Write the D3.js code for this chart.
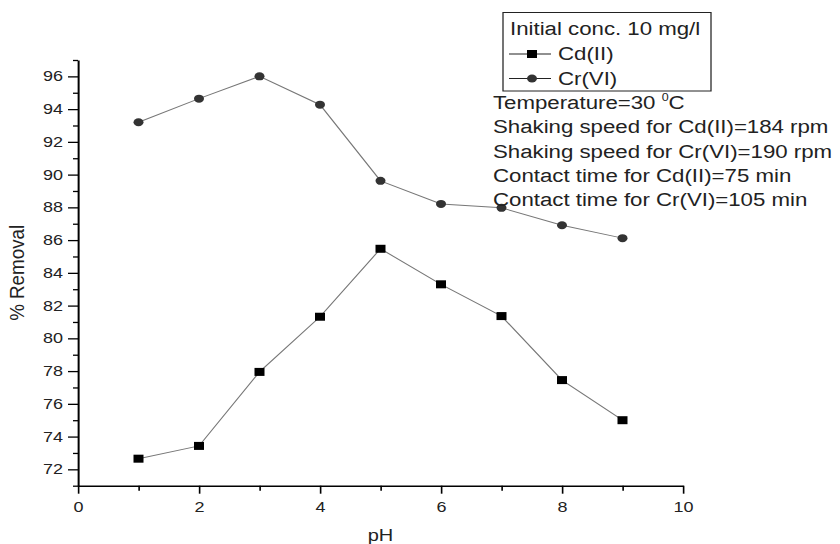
<!DOCTYPE html>
<html>
<head>
<meta charset="utf-8">
<script src="https://cdn.jsdelivr.net/npm/d3@7"></script>
<style>
  html, body { margin: 0; padding: 0; background: #fff; }
  svg { display: block; }
  text { font-family: "Liberation Sans", Arial, sans-serif; fill: #222; }
</style>
</head>
<body>
<div id="chart"></div>
<script>
// data
const pH = [1, 2, 3, 4, 5, 6, 7, 8, 9];
const cdRemoval = [72.65, 73.43, 77.95, 81.32, 85.47, 83.3, 81.36, 77.45, 75.0];
const crRemoval = [93.2, 94.64, 96.0, 94.27, 89.62, 88.21, 87.97, 86.91, 86.12];

const xMajor = [0, 2, 4, 6, 8, 10];
const xMinor = [1, 3, 5, 7, 9];
const yMajor = [72, 74, 76, 78, 80, 82, 84, 86, 88, 90, 92, 94, 96];
const yMinor = [71, 73, 75, 77, 79, 81, 83, 85, 87, 89, 91, 93, 95, 97];

const legendTitle = 'Initial conc. 10 mg/l';
const seriesNames = ['Cd(II)', 'Cr(VI)'];
const notes = [
    'Shaking speed for Cd(II)=184 rpm',
    'Shaking speed for Cr(VI)=190 rpm',
    'Contact time for Cd(II)=75 min',
    'Contact time for Cr(VI)=105 min'
];

// the original picture is stretched sideways, so draw in a narrower box and stretch it
const stretch = 1.25;
const width = 840 / stretch;
const height = 544;
const margin = { top: 60, right: width - 546.4, bottom: 544 - 485.7, left: 62.4 };

const svg = d3.select('#chart')
    .append('svg')
    .attr('width', 840)
    .attr('height', height)
    .attr('viewBox', `0 0 ${width} ${height}`)
    .attr('preserveAspectRatio', 'none');

const x = d3.scaleLinear()
    .domain([0, 10])
    .range([margin.left, width - margin.right]);

const y = d3.scaleLinear()
    .domain([71, 97])
    .range([height - margin.bottom, margin.top]);

// axes
svg.append('g')
    .attr('transform', `translate(0, ${y(71)})`)
    .call(d3.axisBottom(x).tickValues(xMajor).tickSize(8).tickSizeOuter(0).tickPadding(8));

svg.append('g')
    .attr('transform', `translate(0, ${y(71)})`)
    .call(d3.axisBottom(x).tickValues(xMinor).tickSize(5).tickSizeOuter(0).tickFormat(''))
    .select('.domain').remove();

svg.append('g')
    .attr('transform', `translate(${x(0)}, 0)`)
    .call(d3.axisLeft(y).tickValues(yMajor).tickSize(8).tickSizeOuter(0).tickPadding(4));

svg.append('g')
    .attr('transform', `translate(${x(0)}, 0)`)
    .call(d3.axisLeft(y).tickValues(yMinor).tickSize(4).tickSizeOuter(0).tickFormat(''))
    .select('.domain').remove();

svg.selectAll('.domain').attr('stroke', '#000').attr('stroke-width', 1.6);
svg.selectAll('.tick line').attr('stroke', '#000').attr('stroke-width', 1.3);
svg.selectAll('.tick text')
    .attr('font-size', 14.4)
    .attr('fill', '#222')
    .attr('font-family', '"Liberation Sans", Arial, sans-serif');

// axis titles
svg.append('text')
    .attr('x', x(5))
    .attr('y', 541)
    .attr('text-anchor', 'middle')
    .attr('font-size', 16)
    .text('pH');

svg.append('text')
    .attr('transform', `translate(${24 / stretch}, ${y(84)}) rotate(-90)`)
    .attr('text-anchor', 'middle')
    .attr('font-size', 16)
    .attr('textLength', 96)
    .attr('lengthAdjust', 'spacingAndGlyphs')
    .text('% Removal');

// series
const line = d3.line()
    .x(d => x(d[0]))
    .y(d => y(d[1]));

const cdData = d3.zip(pH, cdRemoval);
const crData = d3.zip(pH, crRemoval);

svg.append('path')
    .datum(crData)
    .attr('fill', 'none')
    .attr('stroke', '#777')
    .attr('stroke-width', 1)
    .attr('d', line);

svg.append('path')
    .datum(cdData)
    .attr('fill', 'none')
    .attr('stroke', '#777')
    .attr('stroke-width', 1)
    .attr('d', line);

svg.append('g')
    .selectAll('circle')
    .data(crData)
    .join('circle')
        .attr('cx', d => x(d[0]))
        .attr('cy', d => y(d[1]))
        .attr('r', 4)
        .attr('fill', '#333');

svg.append('g')
    .selectAll('rect')
    .data(cdData)
    .join('rect')
        .attr('x', d => x(d[0]) - 4)
        .attr('y', d => y(d[1]) - 4)
        .attr('width', 8)
        .attr('height', 8)
        .attr('fill', '#000');

// legend
const legend = svg.append('g');

legend.append('rect')
    .attr('x', 503 / stretch)
    .attr('y', 12.5)
    .attr('width', (711 - 503) / stretch)
    .attr('height', 78.5)
    .attr('fill', '#fff')
    .attr('stroke', '#222')
    .attr('stroke-width', 1);

legend.append('text')
    .attr('x', 510 / stretch)
    .attr('y', 35.5)
    .attr('font-size', 17.8)
    .text(legendTitle);

seriesNames.forEach((name, i) => {
    const ly = 54 + i * 24.5;
    const g = legend.append('g');
    g.append('line')
        .attr('x1', 509 / stretch)
        .attr('x2', 551 / stretch)
        .attr('y1', ly)
        .attr('y2', ly)
        .attr('stroke', '#222')
        .attr('stroke-width', 1);
    if (i === 0) {
        g.append('rect')
            .attr('x', 532 / stretch - 4)
            .attr('y', ly - 4)
            .attr('width', 8)
            .attr('height', 8)
            .attr('fill', '#000');
    } else {
        g.append('circle')
            .attr('cx', 532 / stretch)
            .attr('cy', ly)
            .attr('r', 4)
            .attr('fill', '#333');
    }
    g.append('text')
        .attr('x', 558 / stretch)
        .attr('y', ly + 6.5)
        .attr('font-size', 17.8)
        .text(name);
});

// conditions text
const temp = svg.append('text')
    .attr('x', 493 / stretch)
    .attr('y', 109)
    .attr('font-size', 17.8);
temp.append('tspan').text('Temperature=30 ');
temp.append('tspan').attr('dy', -8).attr('font-size', 10).text('0');
temp.append('tspan').attr('dy', 8).text('C');

svg.append('g')
    .selectAll('text')
    .data(notes)
    .join('text')
        .attr('x', 493 / stretch)
        .attr('y', (d, i) => 133.3 + i * 24.3)
        .attr('font-size', 17.8)
        .text(d => d);
</script>
</body>
</html>
